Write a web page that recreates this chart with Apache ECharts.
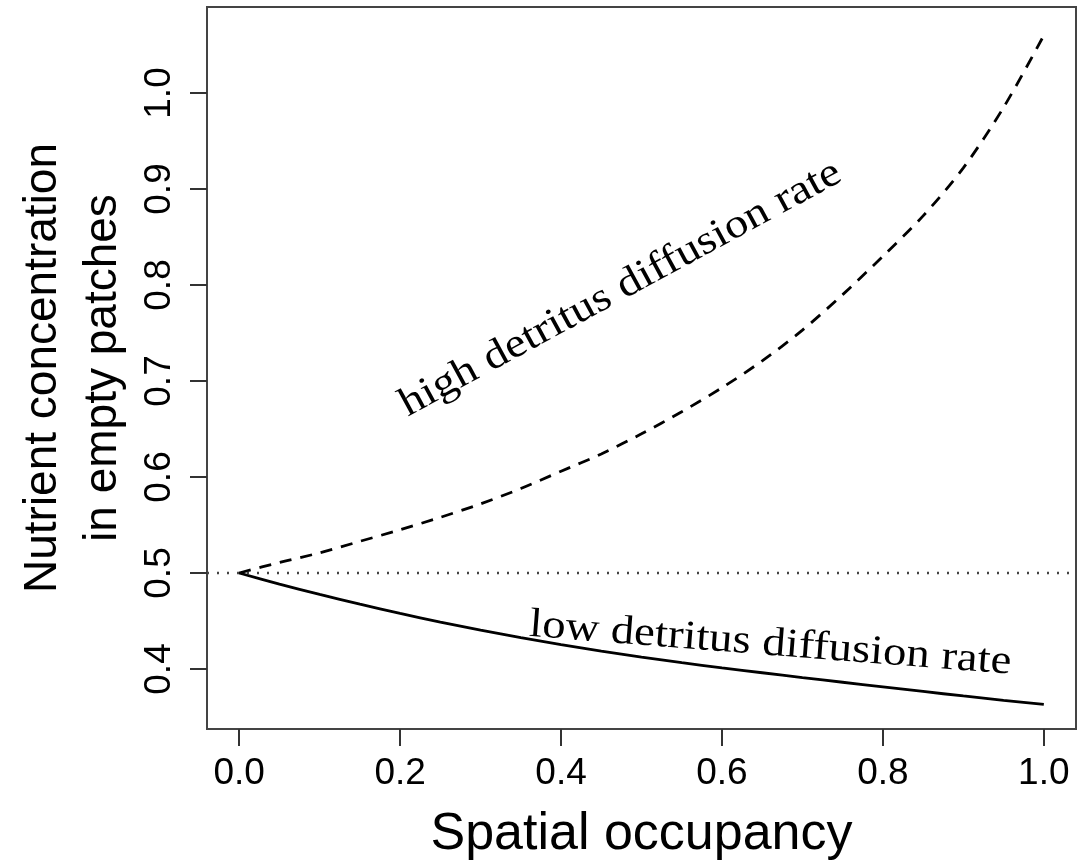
<!DOCTYPE html>
<html>
<head>
<meta charset="utf-8">
<script src="https://cdn.jsdelivr.net/npm/echarts@6/dist/echarts.min.js"></script>
<style>
html,body{margin:0;padding:0;background:#fff;}
#chart{width:1077px;height:866px;}
</style>
</head>
<body>
<div id="chart"></div>
<script>
// ---- data ----
const occupancy = [0, 0.05, 0.1, 0.15, 0.2, 0.25, 0.3, 0.35, 0.4, 0.45, 0.5, 0.55, 0.6, 0.65, 0.7, 0.75, 0.8, 0.85, 0.9, 0.95, 1.0];
const highDiffusion = [0.500, 0.511, 0.521, 0.533, 0.545, 0.558, 0.572, 0.588, 0.606, 0.624, 0.645, 0.668, 0.693, 0.721, 0.753, 0.790, 0.830, 0.872, 0.922, 0.985, 1.060];
const lowDiffusion = [0.500, 0.4885, 0.4777, 0.4675, 0.4579, 0.4489, 0.4405, 0.4327, 0.4254, 0.4186, 0.4123, 0.4066, 0.4012, 0.3961, 0.3911, 0.3862, 0.3814, 0.3766, 0.3719, 0.3674, 0.3632];
const referenceLevel = 0.5;
const xTicks = [0, 0.2, 0.4, 0.6, 0.8, 1.0];
const yTicks = [0.4, 0.5, 0.6, 0.7, 0.8, 0.9, 1.0];
const annotationText = ['high detritus diffusion rate', 'low detritus diffusion rate'];
const annotationX = [0.474, 0.66];
const annotationY = [0.796, 0.426];
const xTitle = 'Spatial occupancy';
const yTitle = 'Nutrient concentration\nin empty patches';

// ---- chart ----
const annotationAngle = [28.5, -4.5];
const pair = (xs, ys) => xs.map((x, i) => [x, ys[i]]);
const chart = echarts.init(document.getElementById('chart'), null, {renderer: 'canvas'});
const sans = 'Liberation Sans, Arial, Helvetica, sans-serif';
const serif = 'Liberation Serif, Times New Roman, serif';

chart.setOption({
  animation: false,
  backgroundColor: '#fff',
  grid: {left: 207, top: 7, right: 1, bottom: 134, show: true, borderColor: '#444', borderWidth: 2, backgroundColor: 'transparent'},
  xAxis: {
    type: 'value', min: -0.04, max: 1.04,
    axisLine: {show: true, onZero: false, lineStyle: {color: '#444', width: 2}},
    splitLine: {show: false},
    axisTick: {show: true, inside: false, length: 17, customValues: xTicks, lineStyle: {color: '#333', width: 2}},
    axisLabel: {customValues: xTicks, margin: 26, fontFamily: sans, fontSize: 37, color: '#000', formatter: v => v.toFixed(1)},
    name: xTitle, nameLocation: 'middle', nameGap: 80,
    nameTextStyle: {fontFamily: sans, fontSize: 52, color: '#000'}
  },
  yAxis: {
    type: 'value', min: 0.3375, max: 1.0896,
    axisLine: {show: true, onZero: false, lineStyle: {color: '#444', width: 2}},
    splitLine: {show: false},
    axisTick: {show: true, inside: false, length: 17, customValues: yTicks, lineStyle: {color: '#333', width: 2}},
    axisLabel: {customValues: yTicks, margin: 29, rotate: 90, fontFamily: sans, fontSize: 37, color: '#000', formatter: v => v.toFixed(1)},
    name: yTitle, nameLocation: 'middle', nameGap: 72, nameRotate: 90,
    nameTextStyle: {fontFamily: sans, fontSize: 46, color: '#000', lineHeight: 60, align: 'center'}
  },
  series: [
    {
      type: 'line', data: pair(occupancy, highDiffusion), showSymbol: false, smooth: 0.3,
      lineStyle: {color: '#000', width: 2.8, type: [12, 9]},
      markLine: {
        silent: true, symbol: 'none', label: {show: false},
        lineStyle: {color: '#444', width: 2.4, type: [2, 8]},
        data: [{yAxis: referenceLevel}]
      }
    },
    {
      type: 'line', data: pair(occupancy, lowDiffusion), showSymbol: false, smooth: 0.3,
      lineStyle: {color: '#000', width: 2.8, type: 'solid'}
    },
    {
      type: 'custom', clip: false,
      data: pair(annotationX, annotationY),
      renderItem: (params, api) => {
        const p = api.coord([api.value(0), api.value(1)]);
        const i = params.dataIndex;
        return {
          type: 'text', x: p[0], y: p[1],
          rotation: annotationAngle[i] * Math.PI / 180,
          scaleX: 1.14,
          style: {text: annotationText[i], fontFamily: serif, fontSize: 41, fill: '#000', align: 'center', verticalAlign: 'middle'}
        };
      }
    }
  ]
});
</script>
</body>
</html>
